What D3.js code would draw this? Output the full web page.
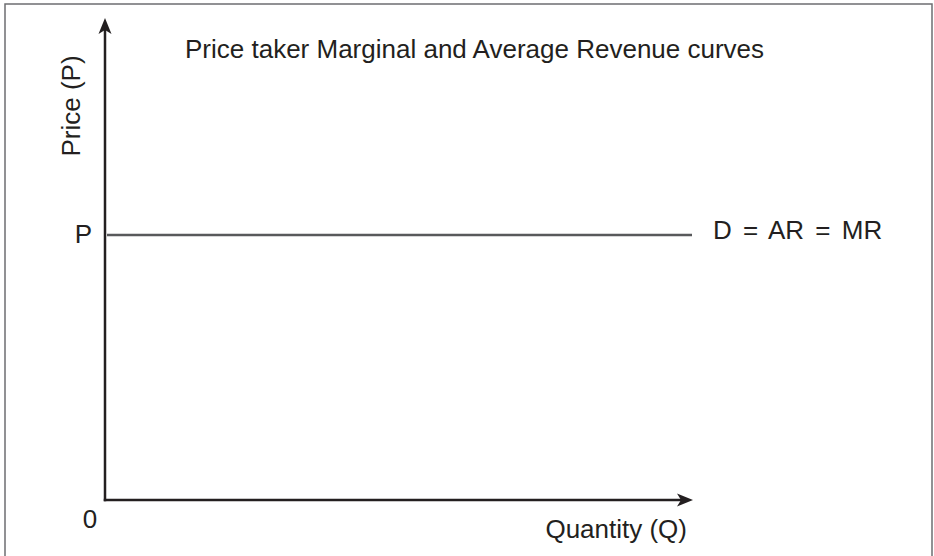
<!DOCTYPE html>
<html>
<head>
<meta charset="utf-8">
<script src="https://cdn.jsdelivr.net/npm/d3@7"></script>
<style>
  html, body { margin: 0; padding: 0; background: #fff; }
  svg { display: block; }
  text { font-family: "Liberation Sans", Arial, sans-serif; fill: #231f20; }
</style>
</head>
<body>
<svg id="chart" width="934" height="556"></svg>
<script>
// Data
const title = "Price taker Marginal and Average Revenue curves";
const xLabel = "Quantity (Q)";
const yLabel = "Price (P)";
const priceLevel = [55];          // horizontal demand line height (share of axis)
const quantitySpan = [0, 100];    // demand line extent along quantity axis
const priceTickLabels = ["P"];
const originLabel = ["0"];
const curveLabels = ["D = AR = MR"];

const svg = d3.select("#chart");
const W = 934, H = 556;
const FS = 26;

// frame
svg.append("rect")
  .attr("x", 5).attr("y", 4).attr("width", W - 7).attr("height", H + 10)
  .attr("fill", "none").attr("stroke", "#6d6e71").attr("stroke-width", 1.5);

const x = d3.scaleLinear().domain([0, 100]).range([105, 693]);
const y = d3.scaleLinear().domain([0, 100]).range([500, 18]);

const axisColor = "#231f20";

// axes lines
svg.append("line")
  .attr("x1", x(0) - 1.25).attr("x2", x(100) - 12)
  .attr("y1", y(0)).attr("y2", y(0))
  .attr("stroke", axisColor).attr("stroke-width", 2.5);
svg.append("line")
  .attr("x1", x(0)).attr("x2", x(0))
  .attr("y1", y(0) + 1.25).attr("y2", y(100) + 12)
  .attr("stroke", axisColor).attr("stroke-width", 2.5);

// arrowheads
const ah = 16, aw = 6.5, notch = 4;
svg.append("path")
  .attr("d", `M${x(100)},${y(0)} L${x(100) - ah},${y(0) - aw} L${x(100) - ah + notch},${y(0)} L${x(100) - ah},${y(0) + aw} Z`)
  .attr("fill", axisColor);
svg.append("path")
  .attr("d", `M${x(0)},${y(100)} L${x(0) - aw},${y(100) + ah} L${x(0)},${y(100) + ah - notch} L${x(0) + aw},${y(100) + ah} Z`)
  .attr("fill", axisColor);

// demand line
svg.selectAll(".demand").data(priceLevel).join("line")
  .attr("class", "demand")
  .attr("x1", x(quantitySpan[0]) + 2).attr("x2", x(quantitySpan[1]) - 1)
  .attr("y1", d => y(d)).attr("y2", d => y(d))
  .attr("stroke", "#58595b").attr("stroke-width", 2.5);

// labels
svg.append("text")
  .attr("x", 185).attr("y", 58)
  .attr("font-size", FS)
  .text(title);

svg.selectAll(".ptick").data(priceTickLabels).join("text")
  .attr("class", "ptick")
  .attr("x", x(0) - 13).attr("y", y(priceLevel[0]) + 8)
  .attr("text-anchor", "end").attr("font-size", FS)
  .text(d => d);

svg.selectAll(".curve").data(curveLabels).join("text")
  .attr("class", "curve")
  .attr("x", 713).attr("y", y(priceLevel[0]) + 4)
  .attr("font-size", FS).attr("word-spacing", 4)
  .text(d => d);

svg.selectAll(".origin").data(originLabel).join("text")
  .attr("class", "origin")
  .attr("x", 90).attr("y", 528)
  .attr("text-anchor", "middle").attr("font-size", FS)
  .text(d => d);

svg.append("text")
  .attr("x", 687).attr("y", 538)
  .attr("text-anchor", "end").attr("font-size", FS)
  .text(xLabel);

svg.append("text")
  .attr("transform", `translate(80, 106) rotate(-90)`)
  .attr("text-anchor", "middle").attr("font-size", FS)
  .text(yLabel);
</script>
</body>
</html>
